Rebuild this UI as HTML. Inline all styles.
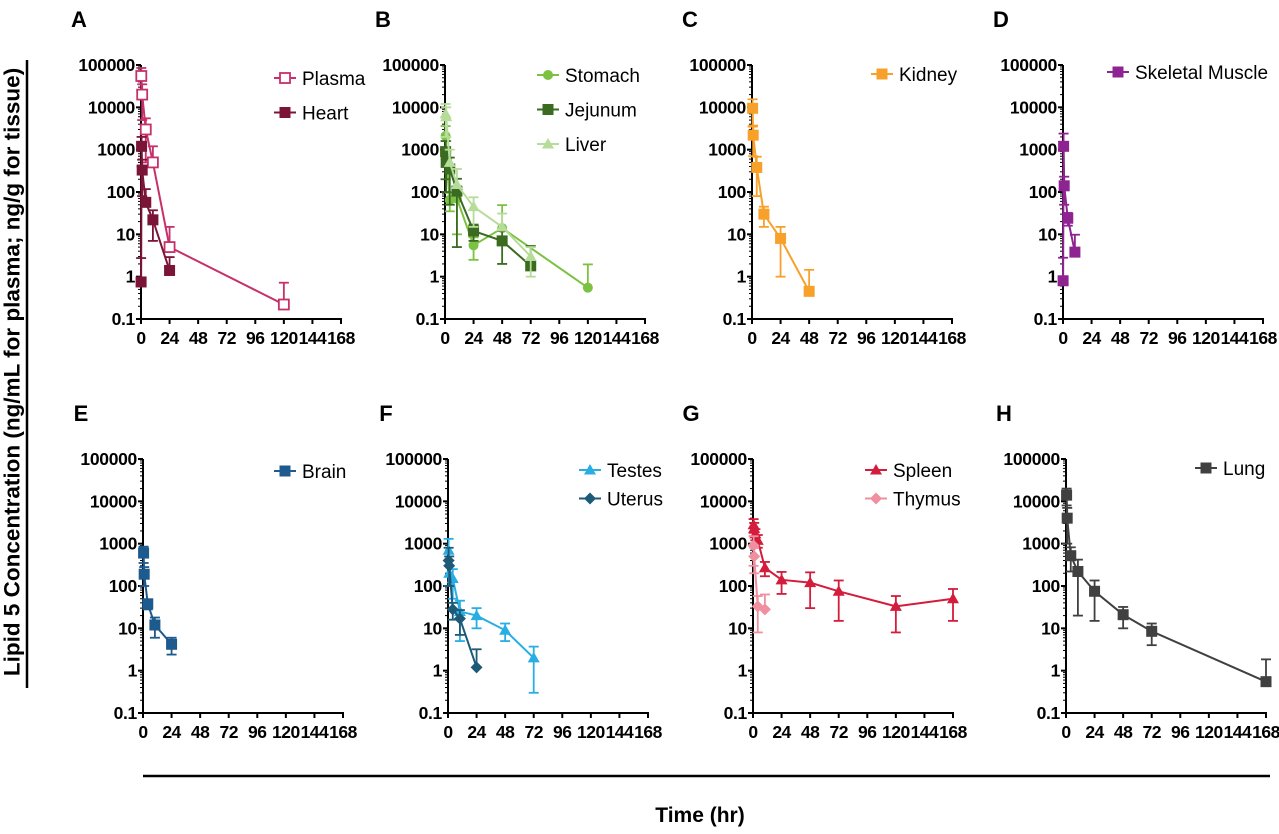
<!DOCTYPE html>
<html><head><meta charset="utf-8"><style>
body{margin:0;background:#fff;width:1279px;height:829px;overflow:hidden}
svg text{font-family:"Liberation Sans",sans-serif}
</style></head><body>
<svg id="fig" width="1279" height="829" viewBox="0 0 1279 829">
<text x="12" y="372" transform="rotate(-90 12 372)" text-anchor="middle" dominant-baseline="central" font-size="22.5" font-weight="bold">Lipid 5 Concentration (ng/mL for plasma; ng/g for tissue)</text>
<line x1="27" y1="60" x2="27" y2="688" stroke="#000" stroke-width="2.5"/>
<line x1="143" y1="776" x2="1270" y2="776" stroke="#000" stroke-width="2.5"/>
<text x="700" y="822" text-anchor="middle" font-size="21" font-weight="bold">Time (hr)</text>
</svg>
<script>
const xTicks=[0,24,48,72,96,120,144,168];
const yTicks=[0.1,1,10,100,1000,10000,100000];
const yTickLabels=["0.1","1","10","100","1000","10000","100000"];
const panelLetters=["A","B","C","D","E","F","G","H"];
const plasmaT=[0.25,1,4,10,24,120];const plasmaV=[55000,20000,3000,500,5,0.22];const plasmaE=[30000,15000,2500,700,10,0.5];
const heartT=[0.083,0.5,1,4,10,24];const heartV=[0.75,1200,330,57,22,1.4];const heartE=[2,800,250,60,15,1.5];
const stomachT=[0.5,1,4,10,24,48,120];const stomachV=[2100,800,65,70,5.5,14,0.55];const stomachE=[1500,800,30,60,3,35,1.4];
const jejunumT=[0.5,1,4,10,24,48,72];const jejunumV=[900,500,350,105,12,7,1.8];const jejunumE=[700,400,300,100,5,5,3.5];
const liverT=[0.5,1,4,10,24,48,72];const liverV=[7000,6000,500,150,45,15,3];const liverE=[5000,4000,500,200,30,16,2];
const kidneyT=[0.5,1,4,10,24,48];const kidneyV=[9500,2200,380,30,8,0.45];const kidneyE=[6000,1500,300,15,7,1];
const muscleT=[0.083,0.5,1,4,10];const muscleV=[0.8,1200,140,24,3.8];const muscleE=[2,1200,90,8,6];
const brainT=[0.5,1,4,10,24];const brainV=[600,190,38,12,4.2];const brainE=[250,90,10,6,1.8];
const testesT=[0.5,1,4,10,24,48,72];const testesV=[700,200,150,25,20,9,2];const testesE=[600,200,100,20,10,4,1.7];
const uterusT=[0.5,1,4,10,24];const uterusV=[400,300,28,17,1.2];const uterusE=[400,200,12,10,2];
const spleenT=[0.5,1,2,4,10,24,48,72,120,168];const spleenV=[2800,2300,1700,1200,270,140,120,75,33,50];const spleenE=[1000,800,500,400,100,75,90,60,25,35];
const thymusT=[0.5,1,4,10];const thymusV=[900,500,33,28];const thymusE=[600,300,25,35];
const lungT=[0.5,1,4,10,24,48,72,168];const lungV=[14000,4000,520,220,75,21,8.5,0.55];const lungE=[6000,3000,300,200,60,11,4.5,1.3];

const panels=[
 {ax:141,top:65,series:[["plasma",plasmaT,plasmaV,plasmaE,"#c7306b","osq","Plasma"],["heart",heartT,heartV,heartE,"#7b1538","sq","Heart"]],lx:285,ly:78},
 {ax:445,top:65,series:[["stomach",stomachT,stomachV,stomachE,"#7cc242","circ","Stomach"],["jejunum",jejunumT,jejunumV,jejunumE,"#3a6b21","sq","Jejunum"],["liver",liverT,liverV,liverE,"#b5dc98","tri","Liver"]],lx:548,ly:75},
 {ax:752,top:65,series:[["kidney",kidneyT,kidneyV,kidneyE,"#f7a12b","sq","Kidney"]],lx:882,ly:74},
 {ax:1063,top:65,series:[["skeletal-muscle",muscleT,muscleV,muscleE,"#8e2491","sq","Skeletal Muscle"]],lx:1118,ly:72},
 {ax:143,top:459,series:[["brain",brainT,brainV,brainE,"#1d5a8e","sq","Brain"]],lx:285,ly:471},
 {ax:448,top:459,series:[["testes",testesT,testesV,testesE,"#29aee3","tri","Testes"],["uterus",uterusT,uterusV,uterusE,"#1c5a78","dia","Uterus"]],lx:590,ly:470},
 {ax:753,top:459,series:[["spleen",spleenT,spleenV,spleenE,"#d41c3c","tri","Spleen"],["thymus",thymusT,thymusV,thymusE,"#ef8fa0","dia","Thymus"]],lx:876,ly:470},
 {ax:1066,top:459,series:[["lung",lungT,lungV,lungE,"#404040","sq","Lung"]],lx:1206,ly:468}
];
const NS="http://www.w3.org/2000/svg";
const svg=document.getElementById("fig");
function mk(tag,attrs,parent){const e=document.createElementNS(NS,tag);for(const k in attrs)e.setAttribute(k,attrs[k]);(parent||svg).appendChild(e);return e;}
const W=200,H=254;
function marker(g,shape,x,y,c){
 let e;
 if(shape==="sq"||shape==="osq"){e=mk("rect",{x:x-5,y:y-5,width:10,height:10,fill:shape==="osq"?"#fff":c,stroke:c,"stroke-width":shape==="osq"?1.8:1},g);}
 else if(shape==="circ"){e=mk("circle",{cx:x,cy:y,r:5,fill:c},g);}
 else if(shape==="tri"){e=mk("polygon",{points:`${x},${y-6} ${x+6},${y+4.5} ${x-6},${y+4.5}`,fill:c},g);}
 else {e=mk("polygon",{points:`${x},${y-6} ${x+6},${y} ${x},${y+6} ${x-6},${y}`,fill:c},g);}
 return e;
}
panels.forEach((p,i)=>{
 const g=mk("g",{});
 
 
 const bottom=p.top+H;
 const xs=t=>p.ax+t/168*W;
 const ys=v=>{const l=Math.log10(Math.max(v,0.1));return bottom-(l+1)/6*H;};
 const lt=mk("text",{x:p.ax-62,y:p.top-38,"font-size":22,"font-weight":"bold","text-anchor":"middle"},g);
 lt.textContent=panelLetters[i];
 
 
 const ya=mk("line",{x1:p.ax,y1:p.top,x2:p.ax,y2:bottom+1,stroke:"#000","stroke-width":2},g);
 
 
 const xa=mk("line",{x1:p.ax-1,y1:bottom,x2:p.ax+W+1,y2:bottom,stroke:"#000","stroke-width":2},g);
 
 
 yTicks.forEach((v,k)=>{
  const y=ys(v);
  mk("line",{x1:p.ax-5,y1:y,x2:p.ax,y2:y,stroke:"#000","stroke-width":2},g);
  const t=mk("text",{x:p.ax-6,y:y+6,"font-size":17.5,"font-weight":"bold","text-anchor":"end","letter-spacing":"-0.3"},g);
  t.textContent=yTickLabels[k];
  
  
  if(k<yTicks.length-1){for(let m=2;m<10;m++){const yy=ys(v*m);mk("line",{x1:p.ax-3,y1:yy,x2:p.ax,y2:yy,stroke:"#000","stroke-width":1},g);}}
 });
 xTicks.forEach(v=>{
  const x=xs(v);
  mk("line",{x1:x,y1:bottom,x2:x,y2:bottom+5,stroke:"#000","stroke-width":2},g);
  const t=mk("text",{x:x,y:bottom+25,"font-size":17.5,"font-weight":"bold","text-anchor":"middle","letter-spacing":"-0.5"},g);
  t.textContent=String(v);
  
  
 });
 p.series.forEach((s,si)=>{
  const [name,T,V,E,c,shape,label]=s;
  const sg=mk("g",{},g);
  
  
  const pts=T.map((t,k)=>xs(t)+","+ys(V[k])).join(" ");
  mk("polyline",{points:pts,fill:"none",stroke:c,"stroke-width":2},sg);
  T.forEach((t,k)=>{
   const x=xs(t),y0=ys(V[k]),y1=ys(V[k]+E[k]);
   mk("line",{x1:x,y1:y1,x2:x,y2:y0,stroke:c,"stroke-width":1.8},sg);
   mk("line",{x1:x-5,y1:y1,x2:x+5,y2:y1,stroke:c,"stroke-width":1.8},sg);
   if(V[k]-E[k]>0.1){const y2=ys(V[k]-E[k]);
    mk("line",{x1:x,y1:y0,x2:x,y2:y2,stroke:c,"stroke-width":1.8},sg);
    mk("line",{x1:x-5,y1:y2,x2:x+5,y2:y2,stroke:c,"stroke-width":1.8},sg);}
   const m=marker(sg,shape,x,y0,c);
   
   
  });
  const lg=mk("g",{},g);
  
  
  const ly=p.ly+si*(i===5||i===6?28.5:34.5);
  mk("line",{x1:p.lx-11,y1:ly,x2:p.lx+11,y2:ly,stroke:c,"stroke-width":2},lg);
  marker(lg,shape,p.lx,ly,c);
  const lt2=mk("text",{x:p.lx+17,y:ly+7,"font-size":19},lg);
  lt2.textContent=label;
 });
});
</script>
</body></html>
